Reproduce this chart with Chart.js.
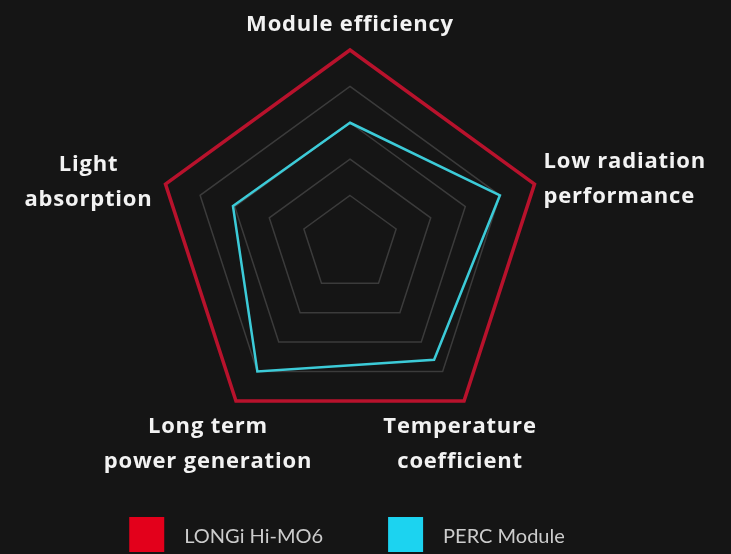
<!DOCTYPE html>
<html>
<head>
<meta charset="utf-8">
<title>Hi-MO6 vs PERC</title>
<script src="https://cdn.jsdelivr.net/npm/chart.js@4.4.1/dist/chart.umd.min.js"></script>
<style>
  html, body { margin: 0; padding: 0; background: #151515; }
  #wrap { width: 731px; height: 554px; }
  canvas { display: block; }
</style>
</head>
<body>
<div id="wrap"><canvas id="radar" width="731" height="554"></canvas></div>
<script>
// Axis names (one entry per spoke, split into display lines)
const categories = [
  ['Module efficiency'],
  ['Low radiation', 'performance'],
  ['Temperature', 'coefficient'],
  ['Long term', 'power generation'],
  ['Light', 'absorption']
];
const seriesNames = ['LONGi Hi-MO6', 'PERC Module'];
// Scores on a 1-5 scale
const longiScores = [5, 5, 5, 5, 5];
const percScores = [3, 4, 3.6, 4, 3.05];
// Grid rings
const ringTicks = [1, 2, 3, 4, 5];
// The centre sits a third of a step below zero so the innermost ring keeps some room
const scoreFloor = -1 / 3;
const scoreCeil = 5;

// How each axis title is placed around its spoke tip
const labelLayout = [
  { align: 'center', dx: 0,   dy: -19 },
  { align: 'left',   dx: 9,   dy: -16 },
  { align: 'center', dx: -4,  dy: 32 },
  { align: 'center', dx: -28, dy: 32 },
  { align: 'center', dx: -77, dy: -13 }
];
const LABEL_FONT = '700 22px "Open Sans", Lato, sans-serif';
const LABEL_SPACING = '0.8px';
const LABEL_LINE = 35;
const LEGEND_FONT = '400 20px Lato, "Open Sans", sans-serif';

const background = {
  id: 'background',
  beforeDraw(chart) {
    const { ctx, width, height } = chart;
    ctx.save();
    ctx.fillStyle = '#151515';
    ctx.fillRect(0, 0, width, height);
    ctx.restore();
  }
};

const axisTitles = {
  id: 'axisTitles',
  afterDraw(chart) {
    const scale = chart.scales.r;
    const ctx = chart.ctx;
    ctx.save();
    ctx.font = LABEL_FONT;
    if ('letterSpacing' in ctx) ctx.letterSpacing = LABEL_SPACING;
    ctx.fillStyle = '#f2f2f2';
    ctx.textBaseline = 'alphabetic';
    chart.data.labels.forEach((lines, i) => {
      const tip = scale.getPointPosition(i, scale.drawingArea);
      const lay = labelLayout[i];
      ctx.textAlign = lay.align;
      const x = tip.x + lay.dx;
      let y = tip.y + lay.dy;
      if (i === 0) y -= (lines.length - 1) * LABEL_LINE;
      lines.forEach((line, k) => ctx.fillText(line, x, y + k * LABEL_LINE));
    });
    ctx.restore();
  }
};

const swatchLegend = {
  id: 'swatchLegend',
  afterDraw(chart) {
    const ctx = chart.ctx;
    const scale = chart.scales.r;
    const box = 35, gapText = 20, gapItem = 65, cy = 534.5;
    ctx.save();
    ctx.font = LEGEND_FONT;
    const items = chart.data.datasets.map(ds => ({
      text: ds.label, color: ds.swatchColor, w: ctx.measureText(ds.label).width
    }));
    const total = items.reduce((s, it) => s + box + gapText + it.w, 0) + gapItem * (items.length - 1);
    let x = scale.xCenter - 3 - total / 2;
    ctx.textBaseline = 'middle';
    ctx.textAlign = 'left';
    items.forEach(it => {
      ctx.fillStyle = it.color;
      ctx.fillRect(x, cy - box / 2, box, box);
      ctx.fillStyle = '#cccccc';
      ctx.fillText(it.text, x + box + gapText, cy + 2);
      x += box + gapText + it.w + gapItem;
    });
    ctx.restore();
  }
};

new Chart(document.getElementById('radar'), {
  type: 'radar',
  data: {
    labels: categories,
    datasets: [
      {
        label: seriesNames[0],
        data: longiScores,
        borderColor: '#b8122c',
        swatchColor: '#e3001b',
        borderWidth: 3.5,
        backgroundColor: 'rgba(0,0,0,0)',
        fill: false,
        pointRadius: 0,
        pointHoverRadius: 0,
        borderJoinStyle: 'miter'
      },
      {
        label: seriesNames[1],
        data: percScores,
        borderColor: '#3ccbd8',
        swatchColor: '#1cd3f0',
        borderWidth: 2.5,
        backgroundColor: 'rgba(0,0,0,0)',
        fill: false,
        pointRadius: 0,
        pointHoverRadius: 0,
        borderJoinStyle: 'miter'
      }
    ]
  },
  options: {
    responsive: false,
    devicePixelRatio: 1,
    animation: false,
    layout: { padding: { top: 50, bottom: 116, left: 150, right: 181 } },
    plugins: { legend: { display: false }, tooltip: { enabled: false } },
    scales: {
      r: {
        min: scoreFloor,
        max: scoreCeil,
        afterBuildTicks(scale) {
          scale.ticks = ringTicks.map(v => ({ value: v }));
        },
        ticks: { display: false },
        angleLines: { display: false },
        grid: { color: '#3b3b3b', lineWidth: 1.5 },
        pointLabels: { display: false }
      }
    }
  },
  plugins: [background, axisTitles, swatchLegend]
});
</script>
</body>
</html>
